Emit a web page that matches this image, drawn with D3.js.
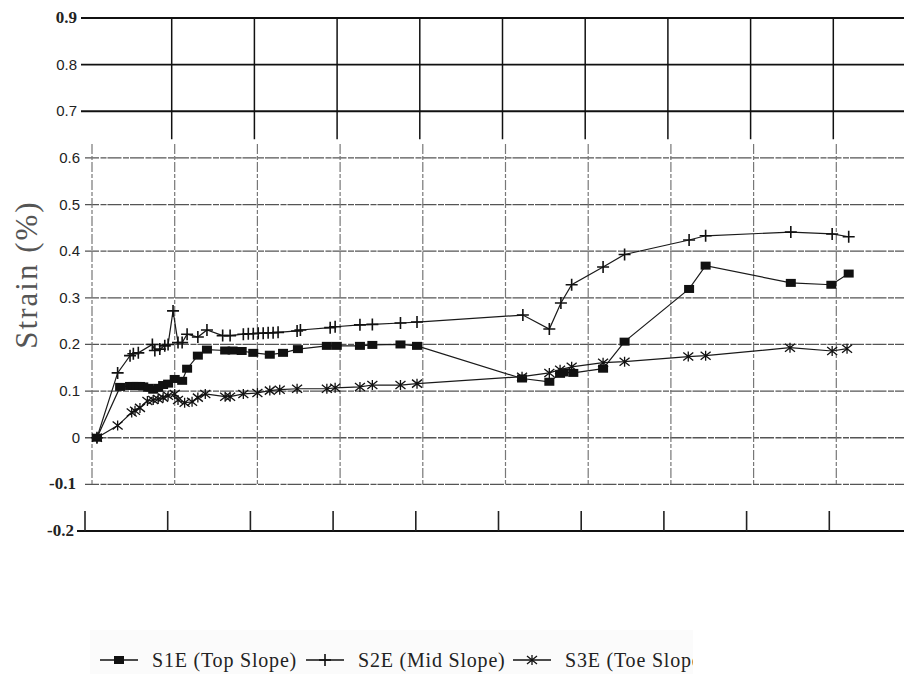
<!DOCTYPE html>
<html>
<head>
<meta charset="utf-8">
<script src="https://cdn.jsdelivr.net/npm/d3@7"></script>
<style>
  html, body { margin: 0; padding: 0; background: #fff; }
  svg { display: block; }
</style>
</head>
<body>
<svg id="chart" width="904" height="674"></svg>
<script>
// Strain readings for the three slope gauges (x = elapsed reading, y = strain in %)
const s1eTop = [
  [0.6,0],[3.4,0.109],[4.6,0.111],[5.0,0.111],[5.4,0.111],[5.8,0.111],[6.2,0.11],[6.8,0.107],
  [7.4,0.103],[8.0,0.107],[8.6,0.113],[9.2,0.116],[10.0,0.126],[10.9,0.122],[11.5,0.148],
  [12.8,0.176],[13.9,0.189],[16.1,0.187],[17.0,0.187],[18.1,0.186],[19.5,0.182],[21.5,0.178],
  [23.1,0.182],[24.9,0.19],[28.4,0.197],[29.6,0.197],[32.4,0.197],[33.9,0.199],[37.3,0.2],
  [39.3,0.197],[52.0,0.127],[55.3,0.12],[56.6,0.137],[57.0,0.14],[58.2,0.139],[61.8,0.148],
  [64.4,0.206],[72.2,0.319],[74.2,0.369],[84.5,0.332],[89.4,0.328],[91.5,0.352]
];
const s2eMid = [
  [0.6,0],[3.1,0.139],[4.6,0.176],[5.0,0.18],[5.6,0.182],[7.3,0.2],[7.6,0.187],[8.2,0.19],
  [8.8,0.197],[9.2,0.2],[9.8,0.272],[10.4,0.204],[10.9,0.204],[11.5,0.222],[12.8,0.216],
  [13.9,0.231],[15.8,0.219],[16.7,0.219],[18.3,0.222],[18.9,0.223],[19.5,0.223],[20.1,0.224],
  [20.7,0.224],[21.3,0.225],[21.9,0.225],[22.5,0.226],[24.8,0.229],[25.2,0.231],[28.8,0.236],
  [29.4,0.238],[32.4,0.242],[33.9,0.243],[37.3,0.246],[39.3,0.248],[52.1,0.263],[55.3,0.233],
  [56.7,0.289],[58.0,0.328],[61.8,0.366],[64.4,0.393],[72.2,0.424],[74.2,0.433],[84.5,0.441],
  [89.5,0.437],[91.5,0.431]
];
const s3eToe = [
  [0.6,0],[3.1,0.026],[4.8,0.054],[5.2,0.058],[5.8,0.064],[6.7,0.079],[7.4,0.081],[8.0,0.083],
  [8.6,0.086],[9.2,0.09],[10.0,0.094],[10.4,0.081],[11.2,0.075],[12.1,0.077],[12.8,0.086],
  [13.7,0.094],[16.1,0.088],[16.7,0.088],[18.3,0.094],[20.0,0.096],[21.5,0.101],[22.7,0.103],
  [24.8,0.105],[28.4,0.105],[29.4,0.107],[32.4,0.109],[33.9,0.113],[37.3,0.113],[39.3,0.116],
  [52.0,0.131],[55.3,0.139],[56.6,0.146],[58.0,0.152],[61.8,0.161],[64.4,0.163],[72.1,0.174],
  [74.2,0.176],[84.4,0.193],[89.5,0.186],[91.3,0.191]
];
const seriesNames = ["S1E (Top Slope)", "S2E (Mid Slope)", "S3E (Toe Slope)"];
const yTicks = [0.9, 0.8, 0.7, 0.6, 0.5, 0.4, 0.3, 0.2, 0.1, 0, -0.1, -0.2];
const yTickLabels = ["0.9", "0.8", "0.7", "0.6", "0.5", "0.4", "0.3", "0.2", "0.1", "0", "-0.1", "-0.2"];
const xGrid = [0, 10, 20, 30, 40, 50, 60, 70, 80, 90];
const yTitle = "Strain (%)";

const svg = d3.select("#chart");
const W = 904;

const x = d3.scaleLinear().domain([0, 100]).range([92, 919]);
const y = d3.scaleLinear().domain([-0.2, 0.9]).range([531, 18]);

// horizontal grid
const hg = svg.append("g");
yTicks.forEach(v => {
  const bold = (v >= 0.7 || v === -0.2);
  hg.append("line")
    .attr("x1", v >= 0.7 ? 81 : (v === -0.2 ? 77 : 85))
    .attr("x2", W)
    .attr("y1", y(v)).attr("y2", y(v))
    .attr("stroke", bold ? "#111" : "#555")
    .attr("stroke-width", bold ? 1.8 : 1.3)
    .attr("stroke-dasharray", bold ? null : "14 1.5 6 1");
});

// vertical grid
const vg = svg.append("g");
xGrid.forEach((v, i) => {
  if (i > 0) {
    // upper panel
    vg.append("line")
      .attr("x1", x(v) - 3).attr("x2", x(v) - 3)
      .attr("y1", y(0.9)).attr("y2", y(0.64))
      .attr("stroke", "#111").attr("stroke-width", 1.5);
  }
  // lower panel
  vg.append("line")
    .attr("x1", x(v)).attr("x2", x(v))
    .attr("y1", y(0.63)).attr("y2", y(-0.1))
    .attr("stroke", "#777").attr("stroke-width", 1.2)
    .attr("stroke-dasharray", "10 2 4 2");
  // bottom axis ticks
  vg.append("line")
    .attr("x1", x(v) - 7).attr("x2", x(v) - 7)
    .attr("y1", y(-0.2)).attr("y2", y(-0.2) - 20)
    .attr("stroke", "#222").attr("stroke-width", 1.6);
});

// y tick labels
const yl = svg.append("g");
yTicks.forEach((v, i) => {
  const bold = (v === 0.9 || v === -0.1 || v === -0.2);
  yl.append("text")
    .attr("x", v === -0.2 ? 74 : (v === -0.1 ? 76 : (v >= 0.7 ? 77 : 80)))
    .attr("y", y(v) + 5)
    .attr("text-anchor", "end")
    .attr("font-family", bold ? "Liberation Serif, serif" : "Liberation Sans, Arial, sans-serif")
    .attr("font-weight", bold ? "bold" : "normal")
    .attr("font-size", bold ? 17 : 15)
    .attr("fill", "#222")
    .text(yTickLabels[i]);
});

// y axis title
svg.append("text")
  .attr("transform", `translate(37,${y(0.35)}) rotate(-90)`)
  .attr("text-anchor", "middle")
  .attr("font-family", "Liberation Serif, Times New Roman, serif")
  .attr("font-size", 31)
  .attr("letter-spacing", 2)
  .attr("fill", "#555")
  .text(yTitle);

// markers
function square(g, cx, cy) {
  g.append("rect").attr("x", cx - 5).attr("y", cy - 4).attr("width", 10).attr("height", 8).attr("fill", "#111");
}
function plus(g, cx, cy) {
  g.append("path").attr("d", `M${cx - 6},${cy}H${cx + 6}M${cx},${cy - 6}V${cy + 6}`)
    .attr("stroke", "#111").attr("stroke-width", 1.6).attr("fill", "none");
}
function star(g, cx, cy) {
  g.append("path").attr("d", `M${cx - 5},${cy - 4}L${cx + 5},${cy + 4}M${cx - 5},${cy + 4}L${cx + 5},${cy - 4}M${cx},${cy - 5}V${cy + 5}`)
    .attr("stroke", "#111").attr("stroke-width", 1.3).attr("fill", "none");
}

const line = d3.line().x(d => x(d[0])).y(d => y(d[1]));
const series = [
  { data: s1eTop, mark: square },
  { data: s2eMid, mark: plus },
  { data: s3eToe, mark: star }
];
series.forEach(s => {
  const g = svg.append("g");
  g.append("path").datum(s.data).attr("d", line)
    .attr("fill", "none").attr("stroke", "#1a1a1a").attr("stroke-width", 1.2);
  s.data.forEach(d => s.mark(g, x(d[0]), y(d[1])));
});

// legend (panel is cut off on the right)
svg.append("defs").append("clipPath").attr("id", "legendClip")
  .append("rect").attr("x", 90).attr("y", 630).attr("width", 603).attr("height", 44);
svg.append("rect").attr("x", 90).attr("y", 630).attr("width", 603).attr("height", 44).attr("fill", "#fbfbfb");
const lg = svg.append("g").attr("clip-path", "url(#legendClip)");
const legendX = [100, 306, 513];
const legendY = 660;
series.forEach((s, i) => {
  const x0 = legendX[i];
  lg.append("line").attr("x1", x0).attr("x2", x0 + 38).attr("y1", legendY).attr("y2", legendY)
    .attr("stroke", "#111").attr("stroke-width", 1.5);
  s.mark(lg, x0 + 19, legendY);
  lg.append("text")
    .attr("x", x0 + 52).attr("y", legendY + 7)
    .attr("font-family", "Liberation Serif, Times New Roman, serif")
    .attr("font-size", 20)
    .attr("letter-spacing", 0.8)
    .attr("fill", "#222")
    .text(seriesNames[i]);
});
</script>
</body>
</html>
